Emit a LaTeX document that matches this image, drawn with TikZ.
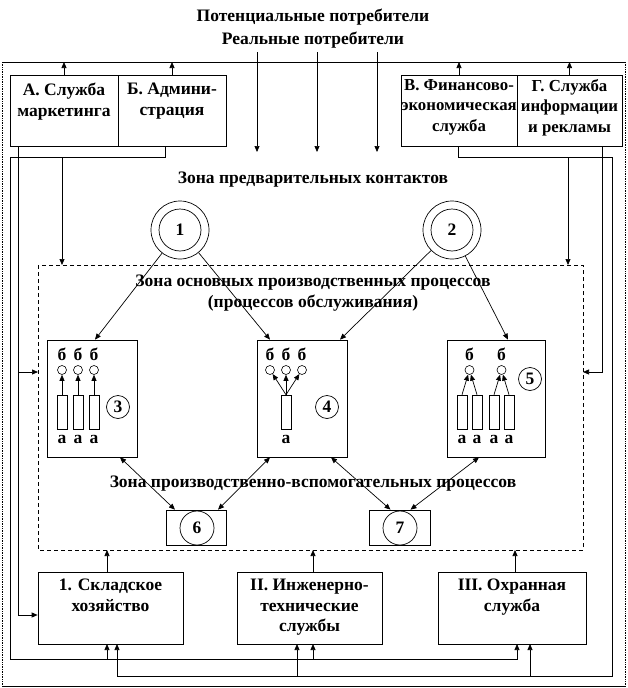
\documentclass[tikz,border=0pt]{standalone}
\usepackage{fontspec}
\setmainfont{Liberation Serif}
\usetikzlibrary{arrows.meta,positioning}
\begin{document}
\begin{tikzpicture}[x=1pt,y=-1pt,line width=0.7pt,
% common options for boxes:
box/.style = {draw, inner sep=0},
% common options for texts:
txt/.style = {font=\fontsize{17.5}{20.5}\selectfont\bfseries, align=center, inner sep=0},
stxt/.style = {txt, font=\fontsize{16.8}{20.5}\selectfont\bfseries},
% common options for the circles:
ring/.style = {circle, draw, inner sep=0},
dot/.style = {circle, draw, line width=0.6pt, minimum size=9pt, inner sep=0},
bar/.style = {draw, line width=0.6pt, minimum width=10pt, minimum height=34pt, inner sep=0},
arr/.style = {-{Triangle[length=6pt,width=5pt]}},
darr/.style = {{Triangle[length=6pt,width=5pt]}-{Triangle[length=6pt,width=5pt]}}]
\useasboundingbox (0,0) rectangle (628,688);
% outer frame
\draw (2,62) -- (625,62);
\draw (2,686) -- (625,686);
\draw[densely dotted] (2,62) -- (2,686);
\draw[densely dotted] (625,62) -- (625,686);
\node[txt] (T1) at (313,17) {Потенциальные потребители};
\node[txt] (T2) at (313,40) {Реальные потребители};
\foreach \x in {257,317,377}
  \draw[arr] (\x,52) -- (\x,152);
% top services
\node[box,minimum width=108pt,minimum height=71pt] (A) at (64,110.5) {};
\node[box,minimum width=108pt,minimum height=71pt] (B) at (172,110.5) {};
\node[box,minimum width=116pt,minimum height=71pt] (V) at (459,110.5) {};
\node[box,minimum width=105pt,minimum height=71pt] (G) at (569.5,110.5) {};
\node[txt,anchor=north] (A0) at (64,83) {А. Служба\\маркетинга};
\node[txt,anchor=north] (B0) at (172,83) {Б. Админи-\\страция};
\node[stxt,anchor=north] (V0) at (459,79) {В. Финансово-\\экономическая\\служба};
\node[stxt,anchor=north] (G0) at (569.5,79) {Г. Служба\\информации\\и рекламы};
\foreach \n in {A,B,V,G}
  \draw[arr] (\n.north) -- (\n.north |- 0,62);
% zones
\node[txt] (Z1) at (313,180) {Зона предварительных контактов};
\node[ring,minimum size=58pt] (P1) at (180,230) {};
\node[ring,minimum size=42pt] (P1i) at (180,230) {};
\node[txt] at (P1) {1};
\node[ring,minimum size=58pt] (P2) at (452,230) {};
\node[ring,minimum size=42pt] (P2i) at (452,230) {};
\node[txt] at (P2) {2};
\draw[dashed,dash pattern=on 4pt off 3pt,line width=0.6pt] (38,265) rectangle (583,550);
\node[txt] (Z2) at (313,293) {Зона основных производственных процессов\\(процессов обслуживания)};
% service places
\node[box,minimum width=90pt,minimum height=117pt] (S3) at (92,398.5) {};
\node[box,minimum width=90pt,minimum height=117pt] (S4) at (302,398.5) {};
\node[box,minimum width=98pt,minimum height=117pt] (S5) at (496,398.5) {};
\foreach \x/\n in {62/1,78/2,94/3} {
  \node[txt] (b3\n) at (\x,354) {б};
  \node[dot] (c3\n) at (\x,370) {};
  \node[bar] (r3\n) at (\x,412) {};
  \node[txt] (a3\n) at (\x,439) {а};
  \draw[arr] (r3\n.north) -- (c3\n.south);
}
\foreach \x/\n in {270/1,286/2,302/3} {
  \node[txt] (b4\n) at (\x,354) {б};
  \node[dot] (c4\n) at (\x,370) {};
}
\node[bar] (r4) at (286,412) {};
\node[txt] (a4) at (286,439) {а};
\foreach \n in {1,2,3}
  \draw[arr] (r4.north) -- (c4\n);
\foreach \x/\n in {469.5/1,501.5/2} {
  \node[txt] (b5\n) at (\x,354) {б};
  \node[dot] (c5\n) at (\x,370) {};
}
\foreach \x/\n/\c in {462/1/1,477/2/1,494/3/2,509/4/2} {
  \node[bar] (r5\n) at (\x,412) {};
  \node[txt] (a5\n) at (\x,439) {а};
  \draw[arr] (r5\n.north) -- (c5\c);
}
\node[ring,minimum size=23pt,txt] (N3) at (118,407) {3};
\node[ring,minimum size=23pt,txt] (N4) at (327,407) {4};
\node[ring,minimum size=23pt,txt] (N5) at (530,379) {5};
\draw[arr] (P1) -- ([xshift=3pt]S3.north);
\draw[arr] (P1) -- ([xshift=-32pt]S4.north);
\draw[arr] (P2) -- ([xshift=38pt]S4.north);
\draw[arr] (P2) -- ([xshift=12pt]S5.north);
% auxiliary zone
\node[txt] (Z3) at (313,484) {Зона производственно-вспомогательных процессов};
\node[box,minimum width=60pt,minimum height=35pt] (H6) at (196,527.5) {};
\node[ring,minimum size=34pt,txt] (N6) at (197,528) {6};
\node[box,minimum width=61pt,minimum height=35pt] (H7) at (399.5,527.5) {};
\node[ring,minimum size=34pt,txt] (N7) at (400,528) {7};
\draw[darr] ([xshift=28pt]S3.south) -- ([xshift=-21pt]H6.north);
\draw[darr] ([xshift=-32pt]S4.south) -- ([xshift=22pt]H6.north);
\draw[darr] ([xshift=29pt]S4.south) -- ([xshift=-9pt]H7.north);
\draw[darr] ([xshift=-17pt]S5.south) -- ([xshift=11pt]H7.north);
% support services
\node[box,minimum width=145pt,minimum height=72pt] (W1) at (110.5,608) {};
\node[box,minimum width=145pt,minimum height=72pt] (W2) at (309.5,608) {};
\node[box,minimum width=148pt,minimum height=72pt] (W3) at (512,608) {};
\node[txt,anchor=north] (W10) at (110.5,579) {1. Складское\\хозяйство};
\node[txt,anchor=north] (W20) at (309.5,579) {II. Инженерно-\\технические\\службы};
\node[txt,anchor=north] (W30) at (512,579) {III. Охранная\\служба};
\foreach \x in {107,313,515}
  \draw[arr] (\x,572) -- (\x,550);
% links of A
\draw[arr] ([xshift=-46pt]A.south) -- (18,615) -- (W1.west |- 0,615);
\draw[arr] (18,372) -- (38,372);
% links of B
\draw[arr] ([xshift=-7pt]B.south) -- (165,157) -- (10,157) -- (10,659) -- (517,659) -- (517,644);
\draw[arr] (62,157) -- (62,265);
\draw[arr] (107,659) -- (107,644);
\draw[arr] (313,659) -- (313,644);
% links of V
\draw[arr] ([xshift=-1pt]V.south) -- (458,157) -- (612,157) -- (612,676) -- (117,676) -- (117,644);
\draw[arr] (568,157) -- (568,265);
\draw[arr] (297,676) -- (297,644);
\draw[arr] (530,676) -- (530,644);
% links of G
\draw[arr] ([xshift=32.5pt]G.south) -- (602,372) -- (583,372);
\end{tikzpicture}
\end{document}
